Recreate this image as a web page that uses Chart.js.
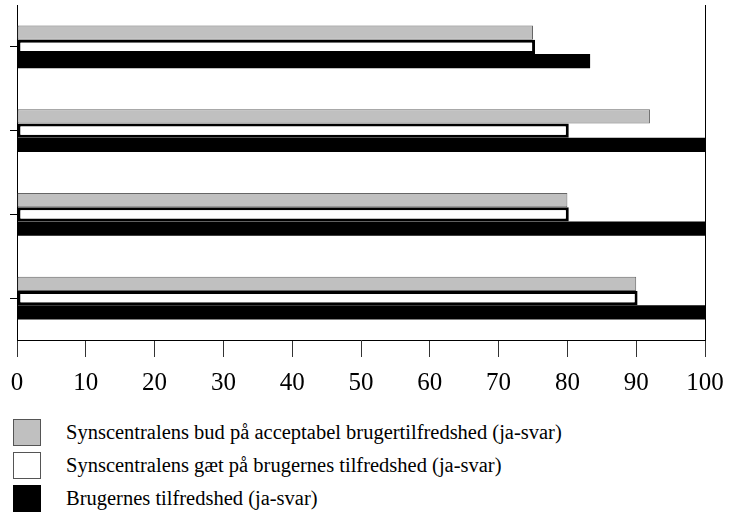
<!DOCTYPE html>
<html>
<head>
<meta charset="utf-8">
<script src="https://cdn.jsdelivr.net/npm/chart.js@4"></script>
<style>
    body { margin: 0; background: #fff; font-family: "Liberation Serif", "Times New Roman", serif; }
    #wrap { position: relative; width: 731px; height: 513px; }
    #box { position: absolute; left: 0; top: 0; width: 731px; height: 409px; }
    #legend { position: absolute; left: 13px; top: 419px; }
    .row { display: flex; align-items: center; height: 27px; margin-bottom: 6px; }
    .sw { width: 26px; height: 25px; border: 1px solid #555; margin-right: 25px; box-sizing: content-box; }
    .row span { font-size: 20.5px; color: #000; }
</style>
</head>
<body>
<div id="wrap">
    <div id="box"><canvas id="bar-chart"></canvas></div>
    <div id="legend"></div>
</div>
<script>
// kategorier (ingen tekst paa aksen i originalen)
const groups = ['1', '2', '3', '4'];
const xTicks = [0, 10, 20, 30, 40, 50, 60, 70, 80, 90, 100];

const seriesNames = [
    'Synscentralens bud på acceptabel brugertilfredshed (ja-svar)',
    'Synscentralens gæt på brugernes tilfredshed (ja-svar)',
    'Brugernes tilfredshed (ja-svar)'
];
const budValues = [75, 92, 80, 90];
const gaetValues = [75.3, 80.2, 80.2, 90.2];
const tilfredsValues = [83.3, 100, 100, 100];

const fills = ['#c0c0c0', '#ffffff', '#000000'];
const serif = '"Liberation Serif", "Times New Roman", serif';

const data = {
    labels: groups,
    datasets: [
        {
            label: seriesNames[0],
            data: budValues,
            backgroundColor: fills[0],
            borderColor: '#666',
            borderWidth: 1,
            borderSkipped: false
        },
        {
            label: seriesNames[1],
            data: gaetValues,
            backgroundColor: fills[1],
            borderColor: '#000',
            borderWidth: 3,
            borderSkipped: false
        },
        {
            label: seriesNames[2],
            data: tilfredsValues,
            backgroundColor: fills[2],
            borderWidth: 0
        }
    ]
};

const config = {
    type: 'bar',
    data: data,
    options: {
        indexAxis: 'y',
        responsive: true,
        maintainAspectRatio: false,
        animation: false,
        categoryPercentage: 0.51,
        barPercentage: 1.0,
        layout: { padding: { left: 10, right: 26, top: 5, bottom: 0 } },
        plugins: {
            legend: { display: false },
            title: { display: false },
            tooltip: { enabled: false }
        },
        scales: {
            x: {
                min: 0,
                max: 100,
                afterBuildTicks: axis => { axis.ticks = xTicks.map(v => ({ value: v })); },
                // labels may hang over the edges, like in the original
                afterFit: axis => { axis.paddingLeft = 0; axis.paddingRight = 0; },
                ticks: {
                    color: '#000',
                    padding: 11,
                    font: { family: serif, size: 25 }
                },
                grid: {
                    color: c => (c.tick && c.tick.value === 100) ? '#000' : 'rgba(0,0,0,0)',
                    tickColor: '#333',
                    tickLength: 17,
                    lineWidth: 1
                },
                border: { display: true, color: '#000', width: 1 }
            },
            y: {
                ticks: { display: false },
                grid: {
                    drawOnChartArea: false,
                    offset: false,
                    tickLength: 7,
                    tickColor: '#000'
                },
                border: { display: true, color: '#000', width: 1 }
            }
        }
    }
};

new Chart(document.getElementById('bar-chart'), config);

// forklaring under grafen
const legend = document.getElementById('legend');
seriesNames.forEach((name, i) => {
    const row = document.createElement('div');
    row.className = 'row';
    const sw = document.createElement('div');
    sw.className = 'sw';
    sw.style.background = fills[i];
    if (i === 2) sw.style.borderColor = '#000';
    const txt = document.createElement('span');
    txt.textContent = name;
    row.appendChild(sw);
    row.appendChild(txt);
    legend.appendChild(row);
});
</script>
</body>
</html>
